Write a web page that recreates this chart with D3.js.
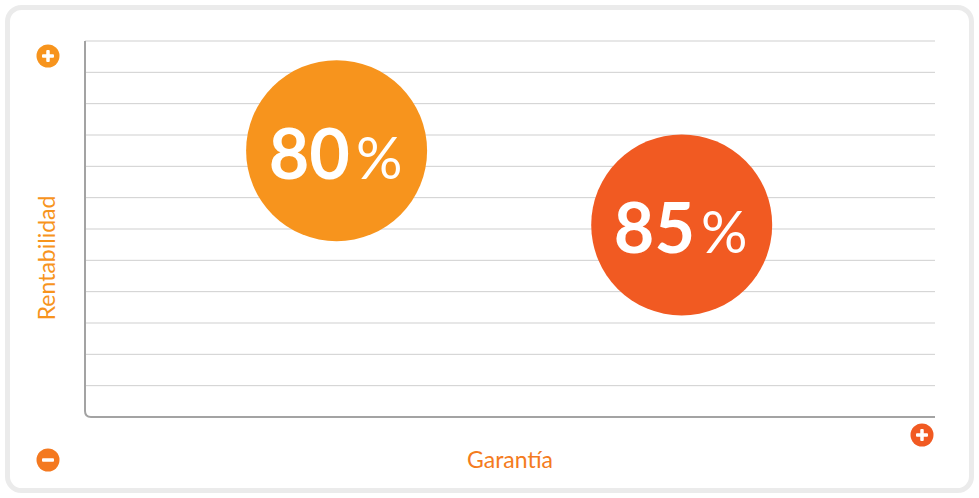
<!DOCTYPE html>
<html>
<head>
<meta charset="utf-8">
<script src="https://cdn.jsdelivr.net/npm/d3@7"></script>
<style>
  html, body { margin: 0; padding: 0; background: #fff; }
  svg { display: block; font-family: "Lato", "Open Sans", sans-serif; }
</style>
</head>
<body>
<div id="chart"></div>
<script>
// data
const labels = ["80", "85"];
const garantia = [29.6, 70.2];      // x value (0-100)
const rentabilidad = [8.5, 6.13];    // y value (0-12)
const colors = ["#F7941D", "#F15A22"];
const gridTicks = d3.range(0, 13);

const W = 979, H = 498;
const margin = { top: 41, right: 44, bottom: 81, left: 85 };
const width = W - margin.left - margin.right,
    height = H - margin.top - margin.bottom;

const svg = d3.select("#chart").append("svg")
    .attr("width", W)
    .attr("height", H);

// card
svg.append("rect")
    .attr("x", 7.5).attr("y", 7.5)
    .attr("width", W - 15).attr("height", H - 15)
    .attr("rx", 14)
    .attr("fill", "#fff")
    .attr("stroke", "#ebebeb")
    .attr("stroke-width", 5);

const g = svg.append("g")
    .attr("transform", `translate(${margin.left},${margin.top})`);

const x = d3.scaleLinear().domain([0, 100]).range([0, width]);
const y = d3.scaleLinear().domain([0, 12]).range([height, 0]);

/* grid */
g.append("g").attr("class", "grid")
    .selectAll("line")
    .data(gridTicks.filter(d => d > 0))
    .enter().append("line")
    .attr("x1", 0).attr("x2", width)
    .attr("y1", d => y(d)).attr("y2", d => y(d))
    .attr("stroke", "#cfcfcf")
    .attr("stroke-width", 1);

/* axes with rounded corner */
const r = 6;
g.append("path")
    .attr("d", `M0,0 V${height - r} Q0,${height} ${r},${height} H${width}`)
    .attr("fill", "none")
    .attr("stroke", "#a3a3a3")
    .attr("stroke-width", 2);

/* bubbles */
const bubble = g.selectAll(".bubble")
    .data(labels.map((l, i) => ({ label: l, x: garantia[i], y: rentabilidad[i], color: colors[i] })))
    .enter().append("g")
    .attr("class", "bubble")
    .attr("transform", d => `translate(${x(d.x)},${y(d.y)})`);

bubble.append("circle")
    .attr("r", 90.5)
    .attr("fill", d => d.color);

const t = bubble.append("text")
    .attr("x", -1)
    .attr("y", 28)
    .attr("text-anchor", "middle")
    .attr("fill", "#fff");
t.append("tspan")
    .attr("font-size", 70)
    .attr("font-weight", 700)
    .text(d => d.label);
t.append("tspan")
    .attr("dx", 6)
    .attr("font-size", 58)
    .attr("font-weight", 400)
    .text("%");

/* axis labels */
svg.append("text")
    .attr("transform", `translate(55, 258) rotate(-90)`)
    .attr("text-anchor", "middle")
    .attr("font-size", 23)
    .attr("fill", "#F7941D")
    .text("Rentabilidad");

svg.append("text")
    .attr("x", 510).attr("y", 468)
    .attr("text-anchor", "middle")
    .attr("font-size", 23)
    .attr("fill", "#F47B20")
    .text("Garantía");

/* plus / minus icons */
function icon(cx, cy, color, plus) {
    const ig = svg.append("g").attr("transform", `translate(${cx},${cy})`);
    ig.append("circle").attr("r", 11.5).attr("fill", color);
    ig.append("rect").attr("x", -6).attr("y", -1.75).attr("width", 12).attr("height", 3.5)
        .attr("rx", 1).attr("fill", "#fff");
    if (plus) {
        ig.append("rect").attr("x", -1.75).attr("y", -6).attr("width", 3.5).attr("height", 12)
            .attr("rx", 1).attr("fill", "#fff");
    }
}
icon(48, 56, "#F7941D", true);
icon(48, 460, "#F47920", false);
icon(922, 435, "#F15A22", true);
</script>
</body>
</html>
